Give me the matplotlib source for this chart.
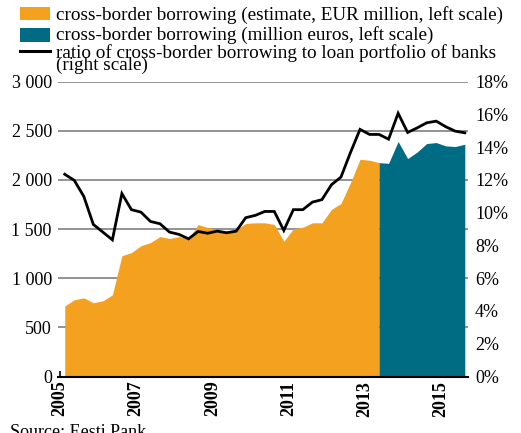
import matplotlib
matplotlib.use("Agg")
import matplotlib.pyplot as plt
from matplotlib.patches import Rectangle
from matplotlib.lines import Line2D

# ---- data (quarterly, 2005Q1 .. 2015Q3) ----
start_year = 2005
estimate_borrowing = [717, 780, 800, 750, 770, 830, 1228, 1260, 1330, 1362, 1423, 1403,
                      1423, 1400, 1545, 1515, 1495, 1477, 1495, 1556, 1563, 1563, 1545,
                      1375, 1502, 1518, 1563, 1563, 1699, 1760, 1971, 2209, 2199, 2175]
actual_borrowing = [2175, 2168, 2390, 2216, 2283, 2369, 2379, 2345, 2339, 2362]
ratio_pct = [12.34, 11.97, 10.99, 9.28, 8.81, 8.34, 11.16, 10.18, 10.03, 9.46, 9.32,
             8.81, 8.67, 8.40, 8.85, 8.74, 8.87, 8.77, 8.87, 9.69, 9.83, 10.07, 10.07,
             8.91, 10.18, 10.18, 10.64, 10.79, 11.70, 12.17, 13.67, 15.08, 14.77,
             14.77, 14.48, 16.06, 14.89, 15.17, 15.48, 15.58, 15.24, 14.97, 14.87]
left_ticks = [0, 500, 1000, 1500, 2000, 2500, 3000]
left_labels = ["0", "500", "1 000", "1 500", "2 000", "2 500", "3 000"]
right_ticks = [0, 2, 4, 6, 8, 10, 12, 14, 16, 18]
right_labels = ["0%", "2%", "4%", "6%", "8%", "10%", "12%", "14%", "16%", "18%"]
year_ticks = list(range(2005, 2016))
year_labels = [str(y) if y % 2 == 1 else "" for y in year_ticks]
legend_labels = ["cross-border borrowing (estimate, EUR million, left scale)",
                 "cross-border borrowing (million euros, left scale)",
                 "ratio of cross-border borrowing to loan portfolio of banks",
                 "(right scale)"]
source_text = "Source: Eesti Pank"

ORANGE = "#F4A11F"
TEAL = "#006C84"

plt.rcParams["font.family"] = ["Liberation Serif", "DejaVu Serif"]

def qx(i):
    return start_year + (i + 0.5) / 4.0

x_all = [qx(i) for i in range(len(ratio_pct))]
x_est = x_all[:len(estimate_borrowing)]
off = len(estimate_borrowing) - 1
x_act = x_all[off:off + len(actual_borrowing)]

W, H = 521, 433
fig = plt.figure(figsize=(W / 100, H / 100), dpi=100)
ax = fig.add_axes([58 / W, 1 - 376.5 / H, 410 / W, 295 / H])
ax.set_xlim(2004.948, 2015.709)
ax.set_ylim(0, 3000)

for v in left_ticks[1:]:
    ax.axhline(v, color="#808080", lw=1.2, zorder=0)

ax.fill_between(x_est, estimate_borrowing, 0, color=ORANGE, lw=0, zorder=2)
ax.fill_between(x_act, actual_borrowing, 0, color=TEAL, lw=0, zorder=2)

for s in ["top", "left", "right"]:
    ax.spines[s].set_visible(False)
ax.spines["bottom"].set_color("black")
ax.spines["bottom"].set_linewidth(1.5)
ax.spines["bottom"].set_zorder(5)

ax.set_yticks(left_ticks)
ax.set_yticklabels(left_labels)
ax.tick_params(axis="y", length=0, pad=4.5, labelsize=13)
ax.set_xticks(year_ticks)
ax.set_xticklabels(year_labels, rotation=90, fontweight="bold", fontsize=13)
ax.tick_params(axis="x", direction="in", length=4, width=1.2, pad=3, color="black")

ax2 = ax.twinx()
ax2.set_ylim(0, 18)
ax2.plot(x_all, ratio_pct, color="black", lw=2.0, zorder=6, solid_joinstyle="miter")
for s in ax2.spines.values():
    s.set_visible(False)
ax2.set_yticks(right_ticks)
ax2.set_yticklabels(right_labels)
ax2.tick_params(axis="y", length=0, pad=5, labelsize=13)

# legend (manual)
def fx(px):
    return px / W

def fy(py):
    return 1 - py / H

fig.add_artist(Rectangle((fx(20), fy(20)), 30 / W, 12.7 / H, transform=fig.transFigure,
                         color=ORANGE, lw=0))
fig.add_artist(Rectangle((fx(20), fy(41.7)), 30 / W, 13.4 / H, transform=fig.transFigure,
                         color=TEAL, lw=0))
fig.add_artist(Line2D([fx(20), fx(50)], [fy(51), fy(51)], transform=fig.transFigure,
                      color="black", lw=2.2))
leg_fs = 13.8
for lab, base in zip(legend_labels, [19.5, 39.5, 58, 69.5]):
    fig.text(fx(56), fy(base), lab, fontsize=leg_fs, va="baseline", ha="left")

fig.text(fx(10), fy(437), source_text, fontsize=13, va="baseline", ha="left")

fig.savefig("out.png", dpi=100)
